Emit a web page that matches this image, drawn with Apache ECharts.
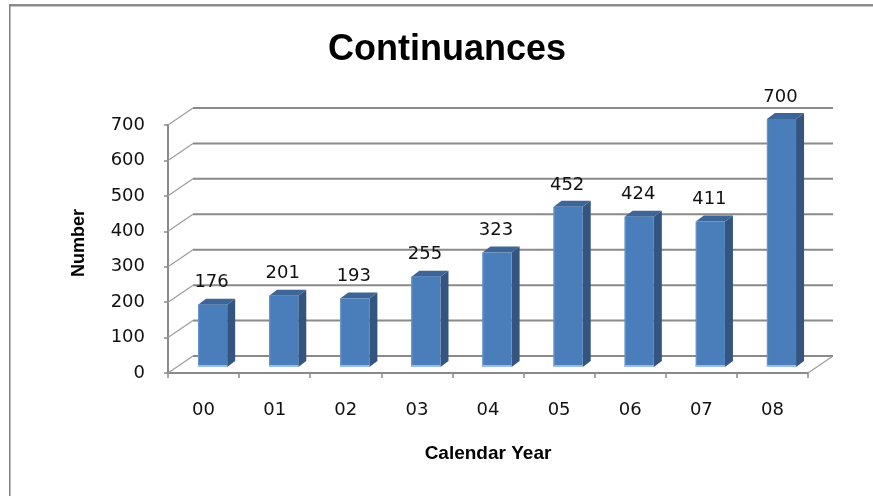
<!DOCTYPE html>
<html><head><meta charset="utf-8">
<script src="https://cdn.jsdelivr.net/npm/echarts@6/dist/echarts.min.js"></script>
<style>html,body{margin:0;padding:0;background:#fff}#c{width:873px;height:496px}</style>
</head><body><div id="c"></div>
<script>
const categories = ['00', '01', '02', '03', '04', '05', '06', '07', '08'];
const values = [176, 201, 193, 255, 323, 452, 424, 411, 700];
const yTicks = [0, 100, 200, 300, 400, 500, 600, 700];

const DX = 25, DY = -17;          // depth of the 3D box
const BX = 8, BY = -6;            // depth of each bar
const GRID_STROKE = '#8a8a8a';
const LABEL_FONT = '"DejaVu Sans", sans-serif';

function renderGrid(params, api) {
  const v = api.value(1);
  const p = api.coord([0, v]);
  const cs = params.coordSys;
  const x0 = cs.x, x1 = cs.x + cs.width, y = p[1];
  const children = [
    {type: 'line', shape: {x1: x0, y1: y, x2: x0 + DX, y2: y + DY}, style: {stroke: '#9c9c9c', lineWidth: 1.2}},
    {type: 'line', shape: {x1: x0 + DX, y1: y + DY, x2: x1 + DX, y2: y + DY}, style: {stroke: GRID_STROKE, lineWidth: 2}}
  ];
  if (v === 0) {
    children.push({type: 'line', shape: {x1: x1, y1: y, x2: x1 + DX, y2: y + DY}, style: {stroke: '#9c9c9c', lineWidth: 1.2}});
  }
  return {type: 'group', children};
}

function renderBar(params, api) {
  const i = api.value(0), v = api.value(1);
  const top = api.coord([i, v]);
  const base = api.coord([i, 0]);
  const band = api.size([1, 0])[0];
  const w = band * 0.41;
  const cx = top[0] + band * 0.127;
  const xL = cx - w / 2, xR = cx + w / 2;
  const yT = top[1] - 6, yB = base[1] - 6;
  return {type: 'group', children: [
    {type: 'polygon', shape: {points: [[xR, yT], [xR + BX, yT + BY], [xR + BX, yB + BY], [xR, yB]]}, style: {fill: '#34557f'}},
    {type: 'polygon', shape: {points: [[xL, yT], [xL + BX, yT + BY], [xR + BX, yT + BY], [xR, yT]]}, style: {fill: '#3d6597'}},
    {type: 'rect', shape: {x: xL, y: yT, width: w, height: yB - yT}, style: {fill: '#4a7ebb'}},
    {type: 'rect', shape: {x: xL, y: yT, width: 1.2, height: yB - yT}, style: {fill: '#6692c9'}},
    {type: 'rect', shape: {x: xL, y: yB - 2, width: w, height: 2}, style: {fill: '#9ebde4'}},
    {type: 'text', x: cx - 1, y: yT - 22, style: {text: String(v), fill: '#111', font: '18px ' + LABEL_FONT, align: 'center', verticalAlign: 'middle'}}
  ]};
}

const chart = echarts.init(document.getElementById('c'), null, {renderer: 'canvas'});
chart.setOption({
  animation: false,
  backgroundColor: '#fff',
  graphic: [
    {type: 'rect', shape: {x: 9, y: 4, width: 864, height: 2.5}, style: {fill: '#8c8c8c'}},
    {type: 'rect', shape: {x: 9, y: 5, width: 1.5, height: 491}, style: {fill: '#808080'}},
    {type: 'text', x: 447, y: 50, style: {text: 'Continuances', fill: '#000', font: 'bold 36px "Liberation Sans", Arial, sans-serif', align: 'center', verticalAlign: 'middle'}}
  ],
  grid: {left: 168, right: 65, top: 125, bottom: 123},
  xAxis: {
    type: 'category',
    data: categories,
    name: 'Calendar Year',
    nameLocation: 'middle',
    nameGap: 71,
    nameTextStyle: {fontFamily: '"Liberation Sans", Arial, sans-serif', fontWeight: 'bold', fontSize: 19, color: '#000'},
    axisLine: {lineStyle: {color: GRID_STROKE, width: 2}},
    axisTick: {show: true, length: 5, lineStyle: {color: GRID_STROKE, width: 1.5}},
    axisLabel: {margin: 28, fontFamily: LABEL_FONT, fontSize: 18, color: '#111'},
    splitLine: {show: false}
  },
  yAxis: {
    type: 'value',
    min: 0, max: 700, interval: 100,
    name: 'Number',
    nameLocation: 'middle',
    nameRotate: 90,
    nameGap: 80,
    nameTextStyle: {fontFamily: '"Liberation Sans", Arial, sans-serif', fontWeight: 'bold', fontSize: 18, color: '#000', padding: [0, 0, 0, 12]},
    axisLine: {show: true, lineStyle: {color: GRID_STROKE, width: 2}},
    axisTick: {show: true, length: 4, lineStyle: {color: GRID_STROKE, width: 1.5}},
    axisLabel: {margin: 23, fontFamily: LABEL_FONT, fontSize: 18, color: '#111'},
    splitLine: {show: false}
  },
  series: [
    {type: 'custom', name: 'grid', clip: false, silent: true, z: 1,
     renderItem: renderGrid, data: yTicks.map(v => [0, v])},
    {type: 'custom', name: 'Continuances', clip: false, z: 3,
     renderItem: renderBar, data: values.map((v, i) => [i, v])}
  ]
});
</script>
</body></html>
